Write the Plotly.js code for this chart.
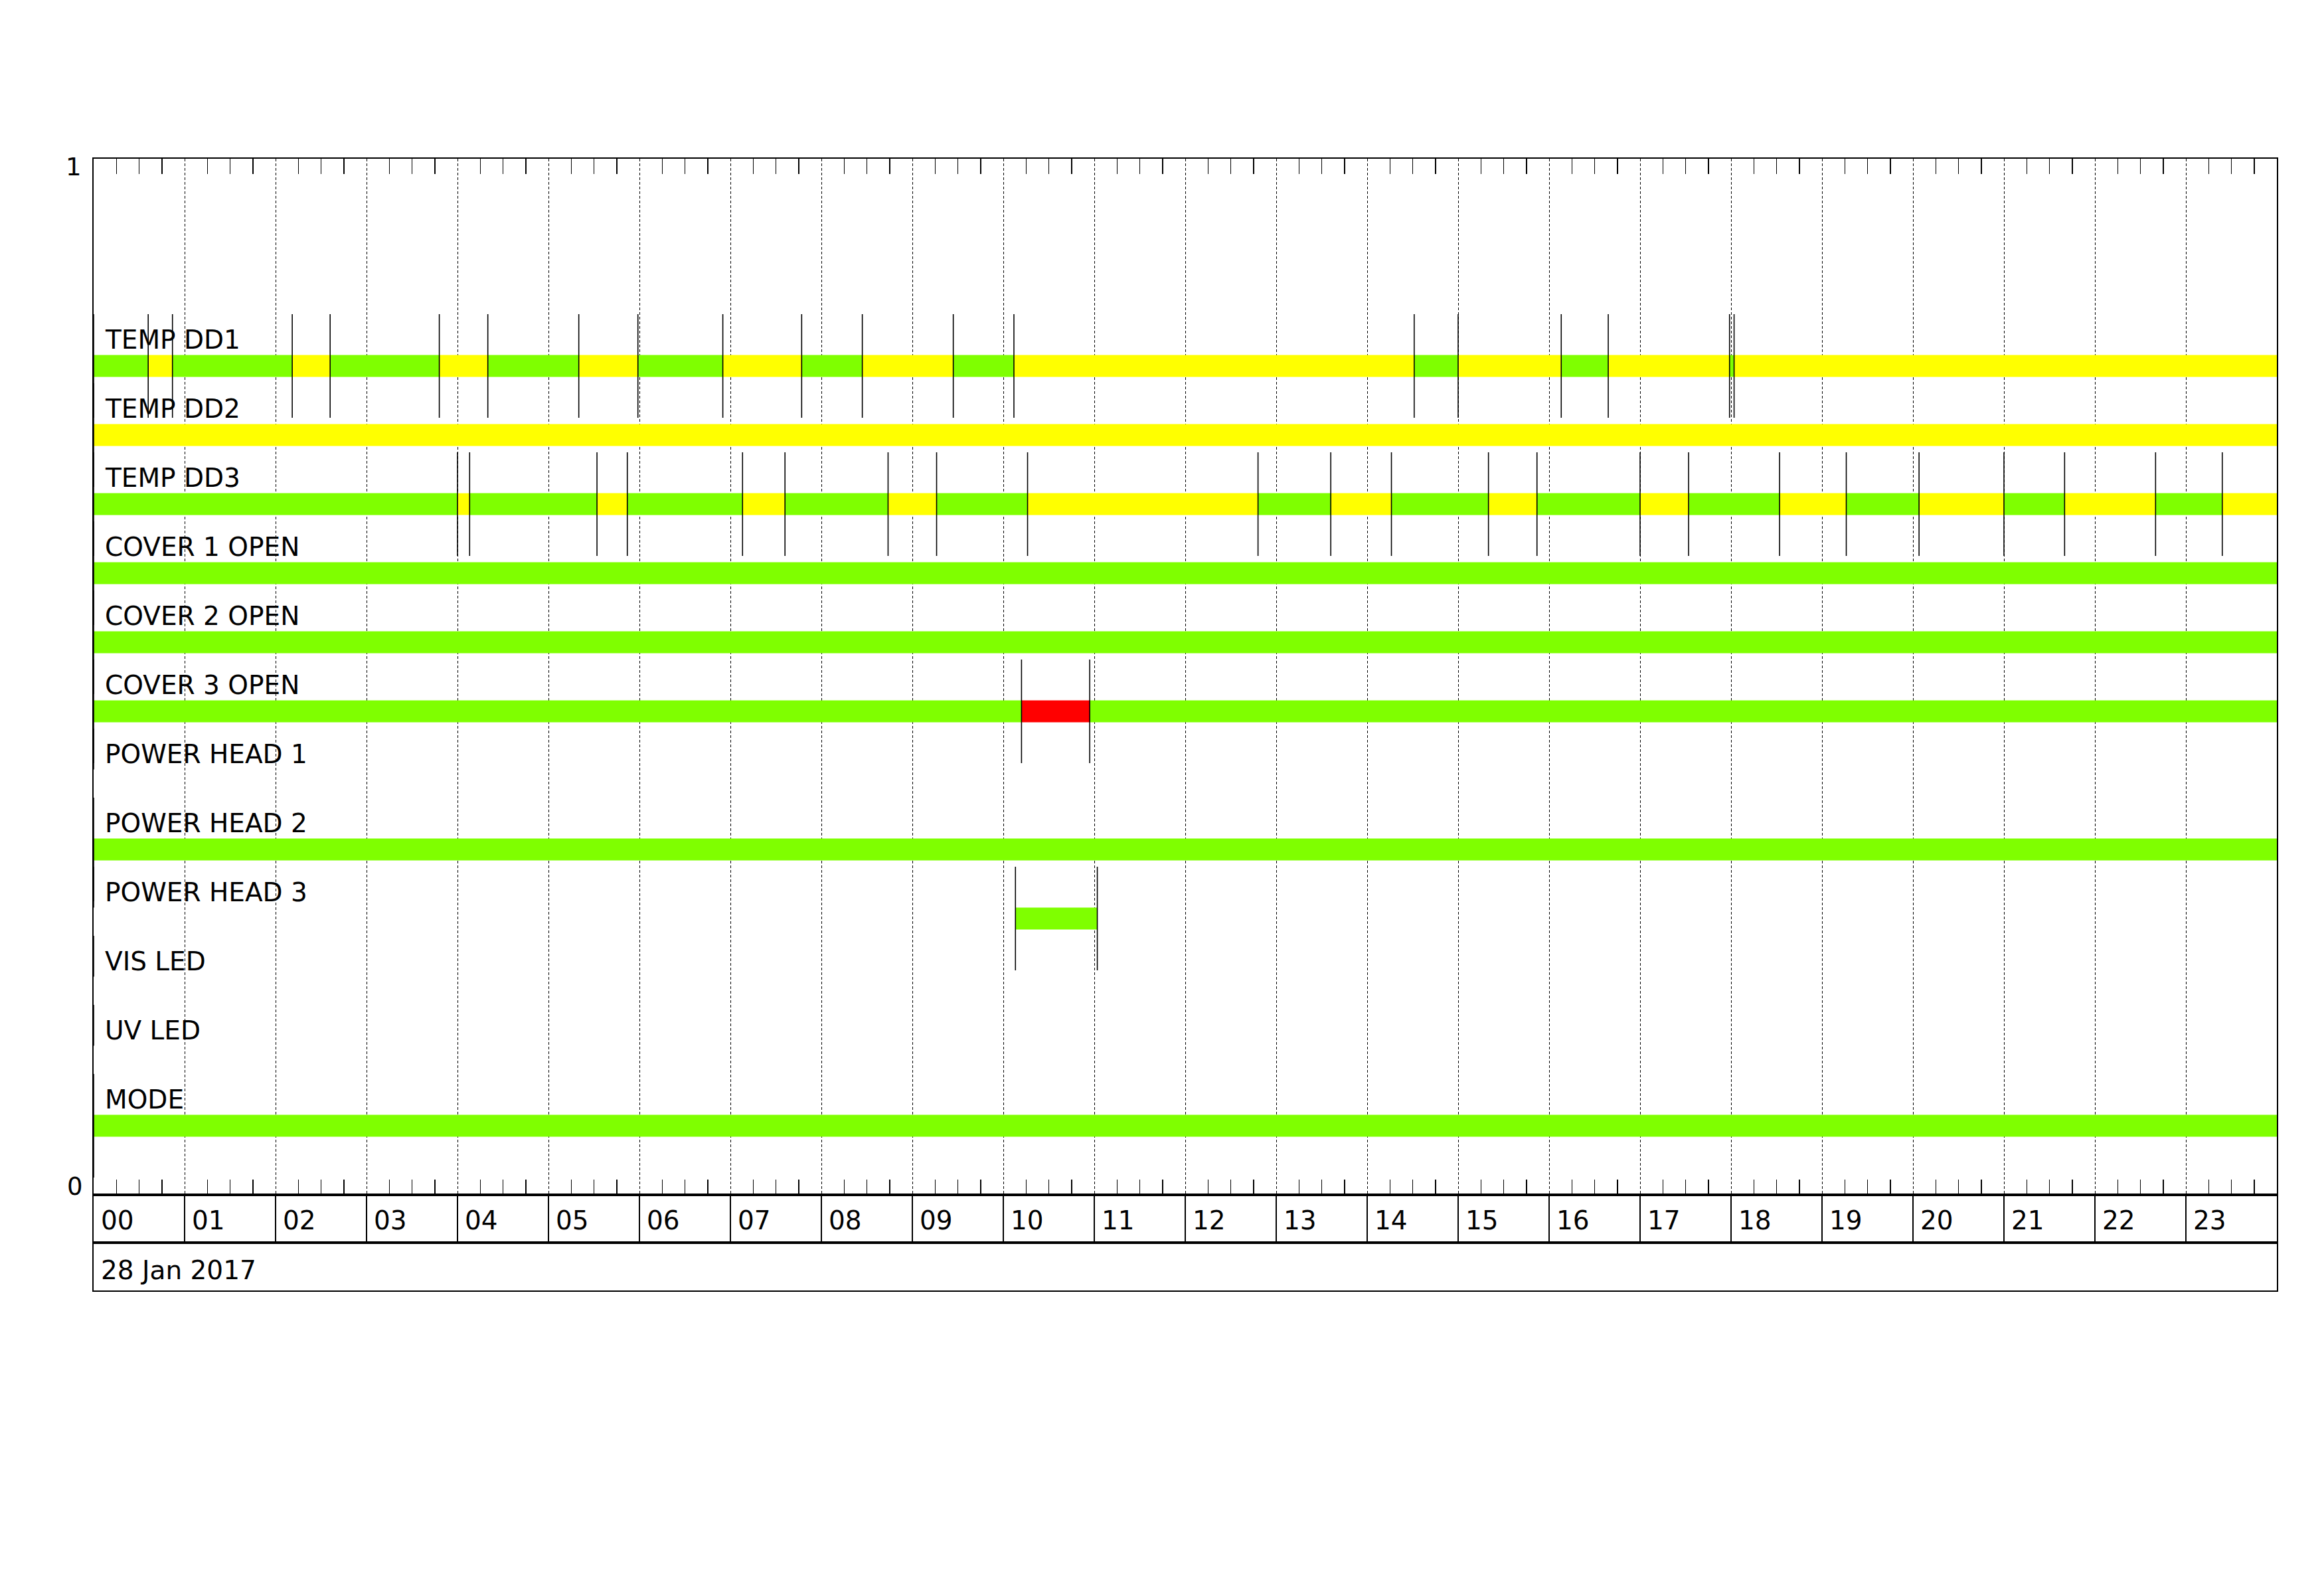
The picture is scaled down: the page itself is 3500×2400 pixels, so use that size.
<!DOCTYPE html>
<html>
<head>
<meta charset="utf-8">
<script src="https://cdn.plot.ly/plotly-3.0.1.min.js"></script>
<style>html,body{margin:0;padding:0;background:#fff;}</style>
</head>
<body>
<div id="chart" style="width:3500px;height:2400px;"></div>
<script>
// ---------------- DATA ----------------
const rowNames = ['TEMP DD1','TEMP DD2','TEMP DD3','COVER 1 OPEN','COVER 2 OPEN','COVER 3 OPEN',
                  'POWER HEAD 1','POWER HEAD 2','POWER HEAD 3','VIS LED','UV LED','MODE'];

// state segments: start time (HH:MM) and state (G = ok/green, Y = warning/yellow, R = alarm/red, N = no data)
const tempDD1Start = ['00:00','00:36','00:52','02:11','02:36','03:48','04:20','05:20','05:59','06:55',
                      '07:47','08:27','09:27','10:07','14:31','15:00','16:08','16:39','17:59','18:02'];
const tempDD1State = ['G','Y','G','Y','G','Y','G','Y','G','Y','G','Y','G','Y','G','Y','G','Y','G','Y'];

const tempDD2Start = ['00:00'];
const tempDD2State = ['Y'];

const tempDD3Start = ['00:00','04:00','04:08','05:32','05:52','07:08','07:36','08:44','09:16','10:16',
                      '12:48','13:36','14:16','15:20','15:52','17:00','17:32','18:32','19:16','20:04',
                      '21:00','21:40','22:40','23:24'];
const tempDD3State = ['G','Y','G','Y','G','Y','G','Y','G','Y','G','Y','G','Y','G','Y','G','Y','G','Y',
                      'G','Y','G','Y'];

const cover1Start = ['00:00'];  const cover1State = ['G'];
const cover2Start = ['00:00'];  const cover2State = ['G'];
const cover3Start = ['00:00','10:12','10:57'];  const cover3State = ['G','R','G'];
const powerHead1Start = ['00:00'];  const powerHead1State = ['N'];
const powerHead2Start = ['00:00'];  const powerHead2State = ['G'];
const powerHead3Start = ['00:00','10:08','11:02'];  const powerHead3State = ['N','G','N'];
const visLedStart = ['00:00'];  const visLedState = ['N'];
const uvLedStart = ['00:00'];   const uvLedState = ['N'];
const modeStart = ['00:00'];    const modeState = ['G'];

const dayEnd = '24:00';
const hourLabels = ['00','01','02','03','04','05','06','07','08','09','10','11',
                    '12','13','14','15','16','17','18','19','20','21','22','23'];
const dateLabel = '28 Jan 2017';
const yAxisLabels = ['0','1'];

// ---------------- STYLE ----------------
const stateColor = {G:'#7FFF00', Y:'#FFFF00', R:'#FF0000'};
const FONT = 'DejaVu Sans';

// ---------------- BUILD ----------------
function toH(s){ const p = s.split(':').map(Number); return p[0] + p[1]/60; }

const rows = [
  [tempDD1Start, tempDD1State], [tempDD2Start, tempDD2State], [tempDD3Start, tempDD3State],
  [cover1Start, cover1State], [cover2Start, cover2State], [cover3Start, cover3State],
  [powerHead1Start, powerHead1State], [powerHead2Start, powerHead2State], [powerHead3Start, powerHead3State],
  [visLedStart, visLedState], [uvLedStart, uvLedState], [modeStart, modeState]
];
const nRows = rows.length;
const rowY = i => (nRows - i) / (nRows + 3);
const barH = 0.021, lineHalf = 0.05, labelOff = 0.0253;

const bars = {};
const lx = [], ly = [];
rows.forEach(([starts, states], i) => {
  const y = rowY(i);
  const end = toH(dayEnd);
  for (let k = 0; k < starts.length; k++) {
    const t0 = toH(starts[k]);
    const t1 = k + 1 < starts.length ? toH(starts[k+1]) : end;
    const st = states[k];
    if (st !== 'N') {
      if (!bars[st]) bars[st] = {y:[], base:[], x:[]};
      bars[st].y.push(y); bars[st].base.push(t0); bars[st].x.push(t1 - t0);
    }
    if (k === 0 && st === 'N') { lx.push(t0, t0, null); ly.push(y + barH/2, y + lineHalf, null); }
    else { lx.push(t0, t0, null); ly.push(y - lineHalf, y + lineHalf, null); }
  }
});

const traces = [];
Object.keys(bars).forEach(st => {
  traces.push({
    type:'bar', orientation:'h', y:bars[st].y, base:bars[st].base, x:bars[st].x,
    width:barH, marker:{color:stateColor[st], line:{width:0}}, hoverinfo:'skip',
    xaxis:'x', yaxis:'y', showlegend:false
  });
});
traces.push({
  type:'scatter', mode:'lines', x:lx, y:ly, line:{color:'#000', width:1.6},
  hoverinfo:'skip', showlegend:false, xaxis:'x', yaxis:'y'
});

const annotations = [];
rowNames.forEach((nm, i) => {
  annotations.push({xref:'x', yref:'y', x:0, y:rowY(i) + labelOff, text:nm, showarrow:false,
    xanchor:'left', yanchor:'middle', xshift:15, font:{family:FONT, size:39, color:'#000'}});
});
hourLabels.forEach(h => {
  annotations.push({xref:'x2', yref:'y2', x:toH(h + ':00'), y:0.47, text:h, showarrow:false,
    xanchor:'left', yanchor:'middle', xshift:9, font:{family:FONT, size:39, color:'#000'}});
});
annotations.push({xref:'x3', yref:'y3', x:0, y:0.42, text:dateLabel, showarrow:false,
  xanchor:'left', yanchor:'middle', xshift:9, font:{family:FONT, size:39, color:'#000'}});
annotations.push({xref:'paper', yref:'y', x:0, y:Number(yAxisLabels[1]), text:yAxisLabels[1], showarrow:false,
  xanchor:'right', yanchor:'top', xshift:-16, yshift:11, font:{family:FONT, size:37, color:'#000'}});
annotations.push({xref:'paper', yref:'y', x:0, y:Number(yAxisLabels[0]), text:yAxisLabels[0], showarrow:false,
  xanchor:'right', yanchor:'bottom', xshift:-14, yshift:-11, font:{family:FONT, size:37, color:'#000'}});

const figH = 2400, plotTop = 239, plotBottom = 1943;
const ph = plotBottom - plotTop;
const d1 = (plotBottom - 1871) / ph, d2 = (plotBottom - 1799) / ph;

const layout = {
  width:3500, height:figH,
  margin:{l:141, r:71, t:plotTop, b:figH - plotBottom, pad:0},
  paper_bgcolor:'#fff', plot_bgcolor:'#fff',
  barmode:'overlay', showlegend:false,
  font:{family:FONT, color:'#000'},
  xaxis:{
    anchor:'y', range:[0, 24], tick0:0, dtick:1, showticklabels:false, ticks:'',
    showgrid:true, gridcolor:'#000', gridwidth:1, griddash:'4px,3px',
    zeroline:false, showline:true, linecolor:'#000', linewidth:2, mirror:'allticks',
    minor:{dtick:0.25, tick0:0, ticks:'inside', ticklen:23, tickwidth:1.5, tickcolor:'#000', showgrid:false}
  },
  yaxis:{
    domain:[d2, 1], range:[0, 1], showticklabels:false, ticks:'', showgrid:false,
    zeroline:false, showline:true, linecolor:'#000', linewidth:2, mirror:true, fixedrange:true
  },
  xaxis2:{
    anchor:'y2', matches:'x', range:[0,24], tick0:0, dtick:1, showticklabels:false, ticks:'',
    showgrid:true, gridcolor:'#000', gridwidth:2, zeroline:false,
    showline:true, linecolor:'#000', linewidth:2, mirror:true
  },
  yaxis2:{
    domain:[d1, d2], range:[0,1], showticklabels:false, ticks:'', showgrid:false, zeroline:false,
    showline:true, linecolor:'#000', linewidth:2, mirror:true
  },
  xaxis3:{
    anchor:'y3', matches:'x', range:[0,24], showticklabels:false, ticks:'', showgrid:false,
    zeroline:false, showline:true, linecolor:'#000', linewidth:2, mirror:true
  },
  yaxis3:{
    domain:[0, d1], range:[0,1], showticklabels:false, ticks:'', showgrid:false, zeroline:false,
    showline:true, linecolor:'#000', linewidth:2, mirror:true
  },
  annotations:annotations
};

Plotly.newPlot('chart', traces, layout, {staticPlot:true, displayModeBar:false});
</script>
</body>
</html>
